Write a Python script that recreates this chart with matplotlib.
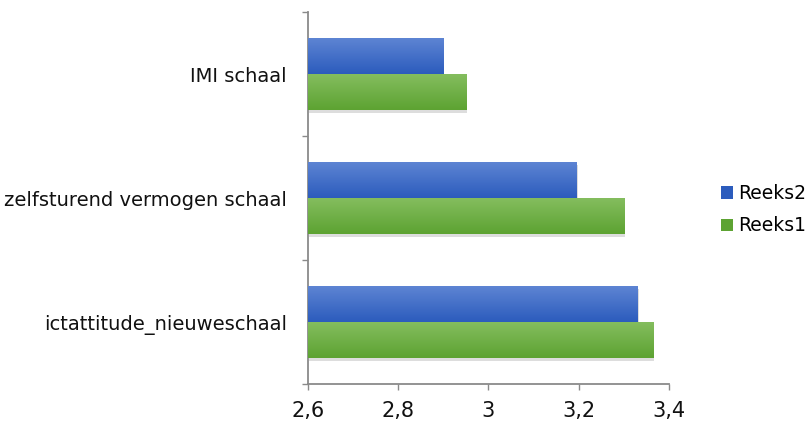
import numpy as np
import matplotlib
matplotlib.use("Agg")
import matplotlib.pyplot as plt
import matplotlib.patheffects as pe
from matplotlib.colors import LinearSegmentedColormap
from matplotlib.ticker import FuncFormatter, FixedLocator

# scale scores per category (bottom to top)
categories = ["ictattitude_nieuweschaal", "zelfsturend vermogen schaal", "IMI schaal"]
reeks1 = [3.365, 3.30, 2.95]
reeks2 = [3.33, 3.195, 2.90]
series_names = ["Reeks1", "Reeks2"]

x_min, x_max = 2.6, 3.4
x_ticks = [2.6, 2.8, 3.0, 3.2, 3.4]

blue_top, blue_bottom = "#5d84d3", "#2c5cbd"
green_top, green_bottom = "#84bd5e", "#5da332"

fig = plt.figure(figsize=(8.08, 4.24), dpi=100)
ax = fig.add_axes([0.381, 0.0943, 0.447, 0.8774])

y = np.arange(len(categories))
h = 0.29

shadow = [pe.SimplePatchShadow(offset=(0.8, -2.2), shadow_rgbFace="#666666", alpha=0.22), pe.Normal()]

bars1 = ax.barh(y - h / 2, [v - x_min for v in reeks1], left=x_min, height=h,
                color=green_bottom, label="Reeks1", zorder=2, path_effects=shadow)
bars2 = ax.barh(y + h / 2, [v - x_min for v in reeks2], left=x_min, height=h,
                color=blue_bottom, label="Reeks2", zorder=2, path_effects=shadow)


def shade(bars, top, bottom):
    # vertical gradient over each bar
    cmap = LinearSegmentedColormap.from_list("g", [bottom, top])
    grad = np.linspace(0, 1, 64).reshape(-1, 1)
    for b in bars:
        x0, y0 = b.get_x(), b.get_y()
        ax.imshow(grad, cmap=cmap, origin="lower", aspect="auto", zorder=3,
                  extent=(x0, x0 + b.get_width(), y0, y0 + b.get_height()),
                  interpolation="bilinear")


shade(bars1, green_top, green_bottom)
shade(bars2, blue_top, blue_bottom)

ax.set_xlim(x_min, x_max)
ax.set_ylim(-0.5, len(categories) - 0.5)
ax.set_xticks(x_ticks)
ax.xaxis.set_major_formatter(FuncFormatter(lambda v, p: f"{v:g}".replace(".", ",")))
ax.set_yticks(y)
ax.set_yticklabels(categories)
ax.yaxis.set_minor_locator(FixedLocator(np.arange(-0.5, len(categories), 1.0)))

for s in ["top", "right"]:
    ax.spines[s].set_visible(False)
for s in ["left", "bottom"]:
    ax.spines[s].set_color("#8a8a8a")
    ax.spines[s].set_linewidth(1.3)

ax.tick_params(axis="y", which="major", length=0, pad=15, labelsize=14, labelcolor="#111111")
ax.tick_params(axis="y", which="minor", length=4.5, width=1, color="#8a8a8a")
ax.tick_params(axis="x", which="major", length=4.5, width=1, color="#8a8a8a", pad=8,
               labelsize=15, labelcolor="#111111")

handles = [bars2, bars1]
leg = fig.legend(handles, ["Reeks2", "Reeks1"], loc="center left",
                 bbox_to_anchor=(0.883, 0.505), frameon=False, fontsize=13.5,
                 handlelength=0.65, handleheight=0.65, handletextpad=0.25,
                 labelspacing=0.7, borderaxespad=0)
for patch, col in zip(leg.get_patches(), [blue_bottom, green_bottom]):
    patch.set_path_effects([])
    patch.set_facecolor(col)

fig.savefig("out.png", dpi=100)
